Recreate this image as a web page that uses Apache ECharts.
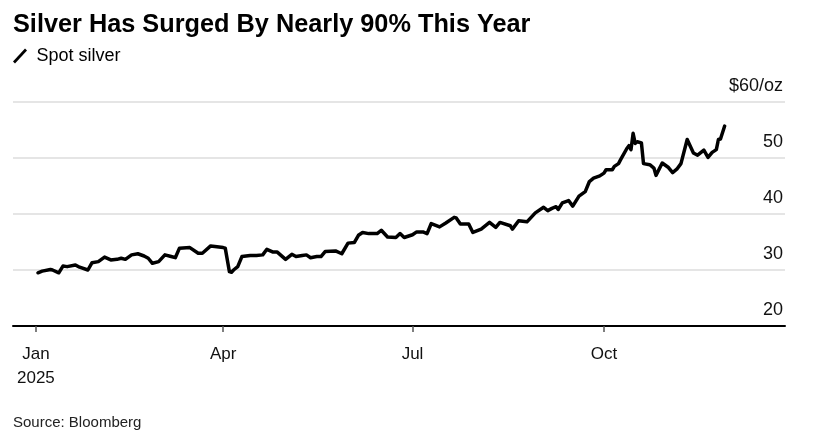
<!DOCTYPE html>
<html>
<head>
<meta charset="utf-8">
<script src="https://cdn.jsdelivr.net/npm/echarts@6/dist/echarts.min.js"></script>
<style>
html,body{margin:0;padding:0;background:#fff;}
#chart{width:816px;height:442px;}
</style>
</head>
<body>
<div id="chart"></div>
<script>
const dates = [
'2025-01-02','2025-01-04','2025-01-08','2025-01-09','2025-01-12','2025-01-14','2025-01-16','2025-01-20','2025-01-22','2025-01-26','2025-01-28','2025-01-31',
'2025-02-03','2025-02-06','2025-02-09','2025-02-11','2025-02-13','2025-02-16','2025-02-19','2025-02-22','2025-02-24','2025-02-26',
'2025-03-01','2025-03-04','2025-03-07','2025-03-09','2025-03-11','2025-03-16','2025-03-20','2025-03-22','2025-03-26','2025-03-28',
'2025-04-01','2025-04-02','2025-04-04','2025-04-05','2025-04-06','2025-04-08','2025-04-10','2025-04-14','2025-04-17','2025-04-20','2025-04-22','2025-04-25','2025-04-27',
'2025-05-01','2025-05-04','2025-05-06','2025-05-09','2025-05-11','2025-05-13','2025-05-16','2025-05-18','2025-05-20','2025-05-25','2025-05-28','2025-05-31',
'2025-06-03','2025-06-05','2025-06-07','2025-06-10','2025-06-14','2025-06-16','2025-06-19','2025-06-23','2025-06-25','2025-06-27',
'2025-07-01','2025-07-03','2025-07-06','2025-07-08','2025-07-10','2025-07-14','2025-07-17','2025-07-21','2025-07-22','2025-07-24','2025-07-28','2025-07-30',
'2025-08-03','2025-08-07','2025-08-10','2025-08-12','2025-08-17','2025-08-18','2025-08-21','2025-08-25','2025-08-29',
'2025-09-02','2025-09-04','2025-09-06','2025-09-08','2025-09-09','2025-09-11','2025-09-14','2025-09-16','2025-09-19','2025-09-22','2025-09-24','2025-09-26','2025-09-29',
'2025-10-01','2025-10-02','2025-10-05','2025-10-06','2025-10-08','2025-10-09','2025-10-12','2025-10-13','2025-10-14','2025-10-15','2025-10-16','2025-10-17','2025-10-19','2025-10-20','2025-10-23','2025-10-25','2025-10-26','2025-10-29',
'2025-11-01','2025-11-03','2025-11-05','2025-11-07','2025-11-10','2025-11-13','2025-11-15','2025-11-18','2025-11-20','2025-11-22','2025-11-24','2025-11-25','2025-11-26','2025-11-28'
];
const silver = [
29.5,29.8,30.1,30.0,29.5,30.7,30.6,30.9,30.5,30.0,31.3,31.5,
32.3,31.8,31.9,32.1,31.9,32.7,32.9,32.5,32.1,31.2,
31.5,32.7,32.4,32.2,33.9,34.0,33.0,33.0,34.3,34.2,
34.0,33.9,29.7,29.6,30.0,30.6,32.4,32.6,32.6,32.7,33.7,33.2,33.2,
31.9,32.8,32.4,32.6,32.7,32.2,32.4,32.4,33.3,33.4,32.9,34.8,
34.9,36.2,36.7,36.5,36.5,37.1,35.9,35.8,36.5,35.8,
36.3,36.8,36.8,36.5,38.3,37.7,38.4,39.4,39.3,38.2,38.2,36.7,
37.3,38.5,37.6,38.5,37.9,37.3,38.8,38.6,40.2,
41.2,40.6,41.0,41.3,40.8,42.0,42.4,41.4,43.2,44.0,45.8,46.4,46.8,
47.3,47.9,47.9,48.5,49.0,49.7,51.7,52.2,51.5,54.4,52.6,52.9,52.7,49.0,48.8,48.2,46.9,49.1,
48.3,47.4,48.0,49.0,53.3,50.9,50.5,51.4,50.1,51.0,51.5,53.3,53.4,55.7
];
const xTickDates = ['2025-01-01','2025-04-01','2025-07-01','2025-10-01'];
const xRange = ['2024-12-21','2025-12-27'];
const monthNames = ['Jan','Feb','Mar','Apr','May','Jun','Jul','Aug','Sep','Oct','Nov','Dec'];
const yMin = 20, yMax = 60, yStep = 10;
const titleText = 'Silver Has Surged By Nearly 90% This Year';
const seriesName = 'Spot silver';
const sourceText = 'Source: Bloomberg';

const FONT = "'Liberation Sans', Arial, Helvetica, sans-serif";
const ts = d => new Date(d + 'T00:00:00Z').getTime();
const chart = echarts.init(document.getElementById('chart'), null, {renderer: 'canvas'});
const tickTs = xTickDates.map(ts);

chart.setOption({
  animation: false,
  backgroundColor: '#fff',
  textStyle: {fontFamily: FONT},
  title: {
    text: titleText,
    left: 8, top: 8,
    textStyle: {fontFamily: FONT, fontSize: 25.3, fontWeight: 'bold', color: '#000'}
  },
  legend: {
    left: 13, top: 47, padding: 0,
    itemWidth: 15, itemHeight: 15, itemGap: 10,
    icon: 'path://M0,13 L12,0 L14,2 L2,15 Z',
    textStyle: {fontFamily: FONT, fontSize: 18, color: '#000', padding: [0,0,0,4]},
    data: [{name: seriesName, itemStyle: {color: '#000'}}]
  },
  graphic: [{
    type: 'text', left: 13, top: 415,
    style: {text: sourceText, fontFamily: FONT, fontSize: 15, fill: '#222'}
  }],
  grid: {left: 13, right: 31, top: 102, bottom: 116, containLabel: false},
  xAxis: {
    type: 'value',
    min: ts(xRange[0]), max: ts(xRange[1]),
    axisLine: {show: true, onZero: false, lineStyle: {color: '#000', width: 2}},
    axisTick: {show: true, customValues: tickTs, length: 6, lineStyle: {color: '#555', width: 1.5}},
    splitLine: {show: false},
    axisLabel: {
      customValues: tickTs,
      showMinLabel: true, showMaxLabel: true,
      margin: 16,
      fontFamily: FONT, fontSize: 17, color: '#111', lineHeight: 24,
      formatter: function (v) {
        const d = new Date(v);
        const m = d.getUTCMonth();
        return m === 0 ? monthNames[m] + '\n' + d.getUTCFullYear() : monthNames[m];
      }
    }
  },
  yAxis: {
    type: 'value',
    position: 'right',
    min: yMin, max: yMax, interval: yStep,
    axisLine: {show: false},
    axisTick: {show: false},
    splitLine: {lineStyle: {color: '#dcdcdc', width: 1.5}},
    axisLabel: {
      inside: true, margin: 2,
      verticalAlign: 'bottom',
      padding: [0, 0, 7, 0],
      fontFamily: FONT, fontSize: 18, color: '#111',
      formatter: function (v) { return v === yMax ? '$' + v + '/oz' : String(v); }
    }
  },
  series: [{
    name: seriesName,
    type: 'line',
    data: dates.map((d, i) => [ts(d), silver[i]]),
    showSymbol: false,
    symbol: 'none',
    lineStyle: {color: '#000', width: 3.5, join: 'round', cap: 'round'},
    itemStyle: {color: '#000'}
  }]
});
</script>
</body>
</html>
